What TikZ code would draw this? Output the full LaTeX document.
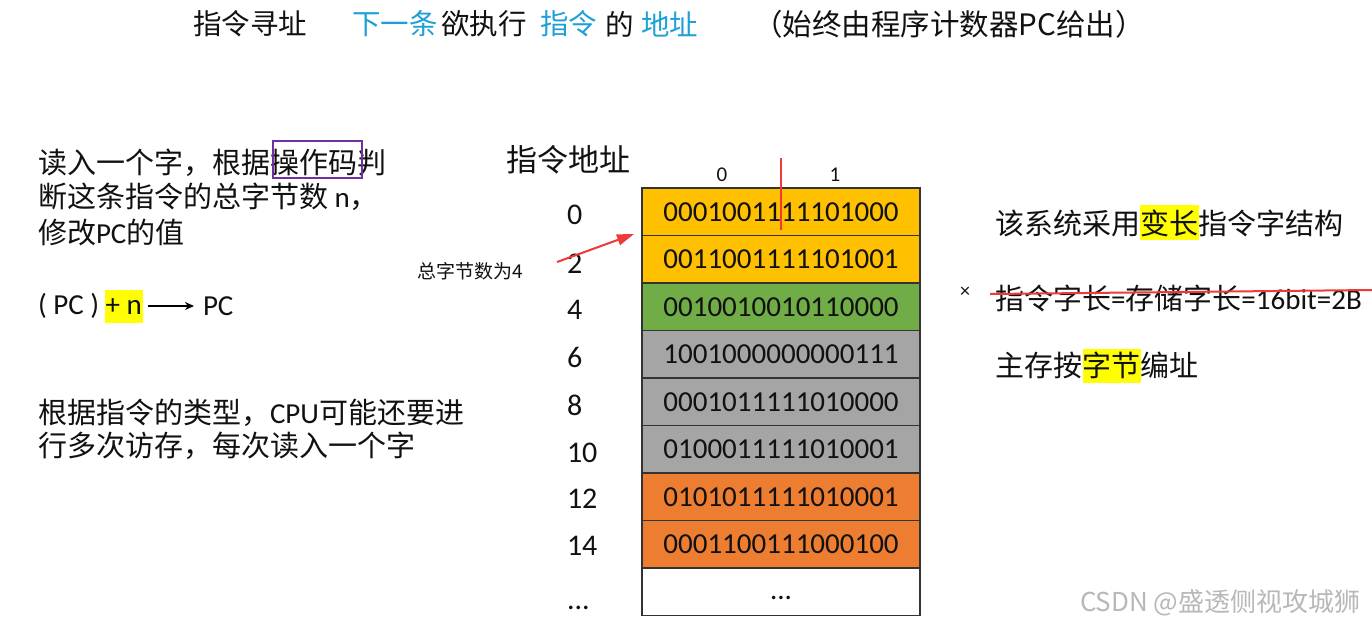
\documentclass[tikz,border=0pt]{standalone}
\usepackage{fontspec}
\setmainfont{Carlito}
\newfontfamily\cjk{Noto Sans CJK SC}
\usetikzlibrary{arrows.meta}
\definecolor{cgold}{HTML}{FFC000}
\definecolor{cgreen}{HTML}{70AD47}
\definecolor{cgray}{HTML}{A5A5A5}
\definecolor{corange}{HTML}{ED7D31}
\definecolor{cborder}{HTML}{333333}
\definecolor{tblue}{RGB}{30,160,215}
\definecolor{hlyellow}{HTML}{FFFF00}
\definecolor{mypurple}{HTML}{7030A0}
\definecolor{myred}{HTML}{F03A3A}
\definecolor{txt}{HTML}{111111}
\begin{document}
\begin{tikzpicture}[x=1pt,y=-1pt,
  every node/.style={inner sep=0pt,outer sep=0pt,text=txt},
  cjktxt/.style={font=\cjk\fontsize{29}{35}\selectfont,anchor=west},
  mixtxt/.style={font=\fontsize{29}{35}\selectfont,anchor=west},
  titletxt/.style={font=\cjk\fontsize{28.5}{34}\selectfont,anchor=west},
  bluetxt/.style={titletxt,text=tblue},
  cell/.style={draw=cborder,line width=1.5pt,minimum width=278pt,minimum height=47.5pt,font=\fontsize{29}{33}\selectfont},
  addr/.style={font=\fontsize{30}{34}\selectfont,anchor=west},
  colhead/.style={font=\fontsize{21}{25}\selectfont},
  redline/.style={draw=myred,line width=2pt},
  hl/.style={fill=hlyellow,draw=none}
]
\useasboundingbox[fill=white] (0,0) rectangle (1372,626);

% ---- title ----
\node[titletxt] (t1) at (193,24) {指令寻址};
\node[bluetxt] (t2) at (352,24) {下一条};
\node[titletxt] (t3) at (441,24) {欲执行};
\node[bluetxt] (t4) at (540,24) {指令};
\node[titletxt] (t5) at (605,24) {的};
\node[bluetxt] (t6) at (641,24) {地址};
\node[titletxt,font=\cjk\fontsize{29.5}{34}\selectfont] (t7) at (753,24) {（始终由程序计数器PC给出）};

% ---- highlights ----
\path[hl] (105,290) rectangle (143,323);
\path[hl] (1140,205) rectangle (1199,240);
\path[hl] (1083,349) rectangle (1141,383);

% ---- left text ----
\node[cjktxt] (l1) at (38,163) {读入一个字，根据操作码判};
\node[mixtxt] (l2) at (38,197) {{\cjk 断这条指令的总字节数} n{\cjk ，}};
\node[mixtxt] (l3) at (38,232) {{\cjk 修改}PC{\cjk 的值}};
\draw[mypurple,line width=1.6pt] (273,141) rectangle (362,178);

\node[anchor=west,font=\fontsize{29}{34}\selectfont] (pcl) at (38,306) {( PC ) + n};
\node[anchor=west,font=\fontsize{29}{34}\selectfont] (pcr) at (203,306) {PC};
\draw[line width=1.8pt,-{Stealth[length=9pt,width=8pt]},shorten <=6pt,shorten >=9pt] (pcl.east) -- (pcr.west);

\node[mixtxt] (l4) at (38,413) {{\cjk 根据指令的类型，}CPU{\cjk 可能还要进}};
\node[cjktxt] (l5) at (38,446) {行多次访存，每次读入一个字};

% ---- table ----
\node[font=\cjk\fontsize{31}{36}\selectfont] (hdr) at (568,160) {指令地址};
\node[colhead] (c0) at (722,175) {0};
\node[colhead] (c1) at (835,175) {1};

\node[cell,fill=cgold]   (r0) at (781,211.75) {0001001111101000};
\node[cell,fill=cgold]   (r1) at (781,259.25) {0011001111101001};
\node[cell,fill=cgreen]  (r2) at (781,306.75) {0010010010110000};
\node[cell,fill=cgray]   (r3) at (781,354.25) {1001000000000111};
\node[cell,fill=cgray]   (r4) at (781,401.75) {0001011111010000};
\node[cell,fill=cgray]   (r5) at (781,449.25) {0100011111010001};
\node[cell,fill=corange] (r6) at (781,496.75) {0101011111010001};
\node[cell,fill=corange] (r7) at (781,544.25) {0001100111000100};
\node[cell,fill=white]   (r8) at (781,591.75) {\raisebox{-8pt}[0pt][0pt]{...}};

\node[addr] (a0) at (567,215) {0};
\node[addr] (a1) at (567,264) {2};
\node[addr] (a2) at (567,310) {4};
\node[addr] (a3) at (567,357) {6};
\node[addr] (a4) at (567,405) {8};
\node[addr] (a5) at (567,453) {10};
\node[addr] (a6) at (567,499) {12};
\node[addr] (a7) at (567,546) {14};
\node[addr,anchor=base west] (a8) at (567,609) {...};

% red marks on table
\coordinate (vt) at (781,158);
\coordinate (vb) at (781,230);
\draw[redline] (vt) -- (vb);

\node[font=\cjk\fontsize{19}{23}\selectfont,anchor=west] (lbl) at (417,271) {总字节数为4};
\coordinate (atail) at (557,262);
\coordinate (ahead) at (634,234);
\draw[myred,line width=2pt,-{Triangle[length=17pt,width=11pt]}] (atail) -- (ahead);

% ---- right text ----
\node[cjktxt] (rt1) at (995,223) {该系统采用变长指令字结构};
\node[font=\fontsize{20}{24}\selectfont] (x) at (965,292) {×};
\node[mixtxt] (rt2) at (995,298) {{\cjk 指令字长}={\cjk 存储字长}=16bit=2B};
\coordinate (s1) at (990,294);
\coordinate (s2) at (1372,290);
\draw[redline] (s1) -- (s2);
\node[cjktxt] (rt3) at (995,365) {主存按字节编址};

% ---- watermark ----
\node[font=\cjk\fontsize{26}{30}\selectfont,anchor=west,text=black!28] (wm) at (1080,603) {CSDN @盛透侧视攻城狮};
\end{tikzpicture}
\end{document}
